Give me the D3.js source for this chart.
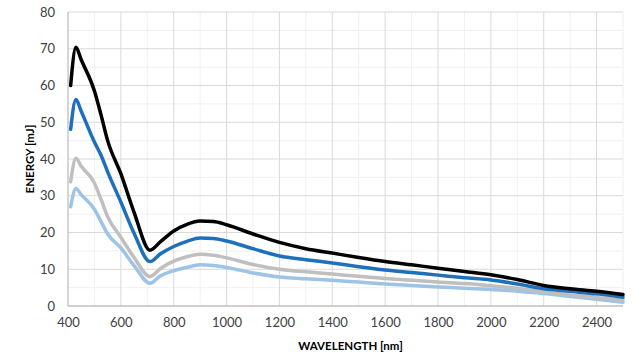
<!DOCTYPE html>
<html><head><meta charset="utf-8">
<script src="https://cdn.jsdelivr.net/npm/d3@7"></script>
<style>body{margin:0;background:#fff}svg{display:block}</style>
</head><body>
<script>
const wavelengths = [410,430,450,500,525,550,600,650,710,750,800,850,900,950,1000,1100,1200,1300,1400,1500,1600,1700,1800,1900,2000,2100,2200,2300,2400,2500];
const seriesBlack = [60,70.4,67,58.5,52,45,36,25.5,15.2,17.5,20.4,22.2,23.1,23,22.1,19.6,17.3,15.6,14.4,13.2,12.1,11.2,10.3,9.4,8.5,7.2,5.6,4.7,4.0,3.1];
const seriesBlue = [48.1,56.2,53,44.6,41,36.5,28.3,19.8,12.1,14.2,16.2,17.6,18.5,18.4,17.7,15.6,13.6,12.6,11.7,10.7,9.8,9.1,8.4,7.7,7.1,6,4.7,4,3.3,2.4];
const seriesGrey = [33.8,40.2,38,33.5,29,24.3,18.7,13.2,8,10.2,12.2,13.4,14.1,13.8,13.1,11.3,10,9.3,8.7,8.1,7.5,7,6.5,6.1,5.5,4.8,3.8,3,2.3,1.6];
const seriesLight = [27,32,30.3,26.3,23,19.6,15.8,11,6.2,8.2,9.6,10.5,11.2,11,10.5,9,7.9,7.4,7,6.5,6,5.6,5.2,4.8,4.5,4,3.4,2.6,1.8,1.0];
const xTicks = [400,600,800,1000,1200,1400,1600,1800,2000,2200,2400];
const yTicks = [0,10,20,30,40,50,60,70,80];
const xTitle = "WAVELENGTH [nm]";
const yTitle = "ENERGY [mJ]";

const W = 641, H = 354;
const m = {l:68, r:18, t:12, b:48};
const svg = d3.select("body").append("svg").attr("width",W).attr("height",H);
const x = d3.scaleLinear().domain([400,2500]).range([m.l, W-m.r]);
const y = d3.scaleLinear().domain([0,80]).range([H-m.b, m.t]);

const g = svg.append("g");
// minor grid
g.selectAll(".vx").data(d3.range(500,2501,200)).enter().append("line")
  .attr("x1",d=>x(d)).attr("x2",d=>x(d)).attr("y1",y(0)).attr("y2",y(80))
  .attr("stroke","#f0f0f0").attr("stroke-width",1);
g.selectAll(".hy").data(d3.range(5,80,10)).enter().append("line")
  .attr("x1",x(400)).attr("x2",x(2500)).attr("y1",d=>y(d)).attr("y2",d=>y(d))
  .attr("stroke","#f0f0f0").attr("stroke-width",1);
// major grid
g.selectAll(".mx").data(xTicks.slice(1)).enter().append("line")
  .attr("x1",d=>x(d)).attr("x2",d=>x(d)).attr("y1",y(0)).attr("y2",y(80))
  .attr("stroke","#d9d9d9").attr("stroke-width",1);
g.selectAll(".my").data(yTicks.slice(1)).enter().append("line")
  .attr("x1",x(400)).attr("x2",x(2500)).attr("y1",d=>y(d)).attr("y2",d=>y(d))
  .attr("stroke","#d9d9d9").attr("stroke-width",1);
// axis lines
g.append("line").attr("x1",x(400)).attr("x2",x(400)).attr("y1",y(0)).attr("y2",y(80)).attr("stroke","#bfbfbf").attr("stroke-width",1.3);
g.append("line").attr("x1",x(400)).attr("x2",x(2500)).attr("y1",y(0)).attr("y2",y(0)).attr("stroke","#bfbfbf").attr("stroke-width",1.3);

const font = "Lato, 'Open Sans', sans-serif";
const xAxis = d3.axisBottom(x).tickValues(xTicks).tickSize(0).tickPadding(12).tickFormat(d3.format("d"));
svg.append("g").attr("transform",`translate(0,${y(0)})`).call(xAxis)
  .call(s=>s.select(".domain").remove())
  .selectAll("text").attr("font-family",font).attr("font-size",13).attr("fill","#404040");
const yAxis = d3.axisLeft(y).tickValues(yTicks).tickSize(0).tickPadding(13);
svg.append("g").attr("transform",`translate(${x(400)},0)`).call(yAxis)
  .call(s=>s.select(".domain").remove())
  .selectAll("text").attr("font-family",font).attr("font-size",13).attr("fill","#404040");

svg.append("text").attr("x",(x(400)+x(2500))/2+5).attr("y",350).attr("text-anchor","middle")
  .attr("font-family",font).attr("font-weight","bold").attr("font-size",11.5).attr("fill","#000").text(xTitle);
svg.append("text").attr("transform",`translate(34,${(y(0)+y(80))/2}) rotate(-90)`).attr("text-anchor","middle")
  .attr("font-family",font).attr("font-weight","bold").attr("font-size",11.5).attr("fill","#000").text(yTitle);

const series = [
  {v:seriesLight, c:"#9dc3e6"},
  {v:seriesGrey, c:"#bfbfbf"},
  {v:seriesBlue, c:"#1f70ba"},
  {v:seriesBlack, c:"#000000"}
];
const line = d3.line().x((d,i)=>x(wavelengths[i])).y(d=>y(d)).curve(d3.curveMonotoneX);
svg.append("g").selectAll("path").data(series).enter().append("path")
  .attr("d",d=>line(d.v)).attr("fill","none").attr("stroke",d=>d.c)
  .attr("stroke-width",3.5).attr("stroke-linejoin","round").attr("stroke-linecap","round");
</script>
</body></html>
